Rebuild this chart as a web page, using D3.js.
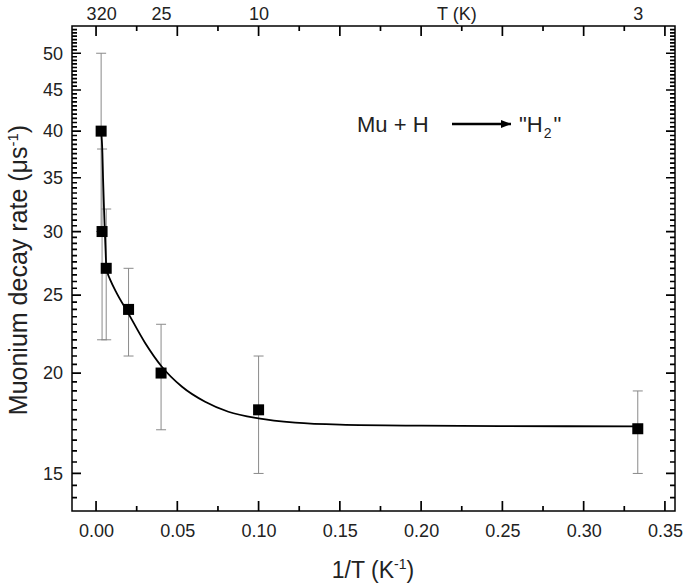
<!DOCTYPE html>
<html>
<head>
<meta charset="utf-8">
<script src="https://cdn.jsdelivr.net/npm/d3@7"></script>
<style>
  body { margin: 0; background: #fff; }
  svg { font-family: "Liberation Sans", Arial, sans-serif; }
</style>
</head>
<body>
<svg id="chart" width="685" height="583"></svg>
<script>
// measured points (1/T in K^-1, decay rate in us^-1)
const invT = [0.003125, 0.0037, 0.00625, 0.02, 0.04, 0.1, 0.3333];
const rate = [40, 30, 27, 24, 20, 18, 17.05];
const errLow = [30, 22, 22, 21, 17, 15, 15];
const errHigh = [50, 38, 32, 27, 23, 21, 19];

// fitted curve
const fitX = [0.003125, 0.0039, 0.0043, 0.0049, 0.0054, 0.0059, 0.0063, 0.0072, 0.0088, 0.0127, 0.0195, 0.0302, 0.0406, 0.0529, 0.0671, 0.0814, 0.0999, 0.1225, 0.15, 0.2, 0.25, 0.3333];
const fitY = [40, 37.6, 35, 32, 30, 28.3, 27.1, 26.6, 26.1, 25.15, 23.8, 21.8, 20.35, 19.23, 18.42, 17.9, 17.56, 17.35, 17.25, 17.2, 17.18, 17.17];

// ticks
const xTicks = [0, 0.05, 0.10, 0.15, 0.20, 0.25, 0.30, 0.35];
const xMinor = [0.025, 0.075, 0.125, 0.175, 0.225, 0.275, 0.325];
const yTicks = [15, 20, 25, 30, 35, 40, 45, 50];
const topTemps = [320, 25, 10, 3];

const svg = d3.select('#chart');
const pL = 72, pR = 675, pT = 26, pB = 511;

const x = d3.scaleLinear().domain([-0.0148, 0.3562]).range([pL, pR]);
const y = d3.scaleLog().domain([13.47, 54.06]).range([pB, pT]);

// minor ticks every 0.5 on the log axis
const yMinor = d3.range(14, 54.01, 0.5).filter(v => v % 5 !== 0 && y(v) < pB - 1 && y(v) > pT + 1);

// tick labels
function styleAxis(g) {
    g.select('.domain').remove();
    g.selectAll('line').remove();
    g.selectAll('text').attr('fill', '#222').attr('font-size', 18);
}
svg.append('g').attr('transform', `translate(${pL},0)`)
    .call(d3.axisLeft(y).tickValues(yTicks).tickSize(0).tickPadding(9).tickFormat(d3.format('d')))
    .call(styleAxis);
svg.append('g').attr('transform', `translate(0,${pB})`)
    .call(d3.axisBottom(x).tickValues(xTicks).tickSize(0).tickPadding(13).tickFormat(d3.format('.2f')))
    .call(styleAxis);
svg.append('g').attr('transform', `translate(0,${pT})`)
    .call(d3.axisTop(x).tickValues(topTemps.map(t => 1 / t)).tickSize(0).tickPadding(6)
        .tickFormat((d, i) => topTemps[i]))
    .call(styleAxis);

// frame
svg.append('rect')
    .attr('x', pL).attr('y', pT)
    .attr('width', pR - pL).attr('height', pB - pT)
    .attr('fill', 'none').attr('stroke', '#000').attr('stroke-width', 1.5);

// tick marks, pointing inwards on all four sides
const tickPath = d3.path();
yTicks.forEach(v => { tickPath.moveTo(pL, y(v)); tickPath.lineTo(pL + 9, y(v)); tickPath.moveTo(pR, y(v)); tickPath.lineTo(pR - 9, y(v)); });
yMinor.forEach(v => { tickPath.moveTo(pL, y(v)); tickPath.lineTo(pL + 5, y(v)); tickPath.moveTo(pR, y(v)); tickPath.lineTo(pR - 5, y(v)); });
xTicks.forEach(v => { tickPath.moveTo(x(v), pB); tickPath.lineTo(x(v), pB - 10); tickPath.moveTo(x(v), pT); tickPath.lineTo(x(v), pT + 10); });
xMinor.forEach(v => { tickPath.moveTo(x(v), pB); tickPath.lineTo(x(v), pB - 5); tickPath.moveTo(x(v), pT); tickPath.lineTo(x(v), pT + 5); });
svg.append('path')
    .attr('d', tickPath.toString())
    .attr('fill', 'none').attr('stroke', '#000').attr('stroke-width', 1.7);

// error bars
const pts = invT.map((v, i) => ({ x: v, y: rate[i], lo: errLow[i], hi: errHigh[i] }));
const eb = svg.append('g').attr('stroke', '#8a8a8a').attr('stroke-width', 1);
eb.selectAll('.stem').data(pts).enter().append('line')
    .attr('x1', d => x(d.x)).attr('x2', d => x(d.x))
    .attr('y1', d => y(d.lo)).attr('y2', d => y(d.hi));
eb.selectAll('.capHi').data(pts).enter().append('line')
    .attr('x1', d => x(d.x) - 5).attr('x2', d => x(d.x) + 5)
    .attr('y1', d => y(d.hi)).attr('y2', d => y(d.hi));
eb.selectAll('.capLo').data(pts).enter().append('line')
    .attr('x1', d => x(d.x) - 5).attr('x2', d => x(d.x) + 5)
    .attr('y1', d => y(d.lo)).attr('y2', d => y(d.lo));

// fit curve
const line = d3.line().x(d => x(d[0])).y(d => y(d[1])).curve(d3.curveMonotoneX);
svg.append('path')
    .datum(fitX.map((v, i) => [v, fitY[i]]))
    .attr('d', line)
    .attr('fill', 'none').attr('stroke', '#000').attr('stroke-width', 1.8);

// markers
const s = 11;
svg.selectAll('.pt').data(pts).enter().append('rect')
    .attr('x', d => x(d.x) - s / 2).attr('y', d => y(d.y) - s / 2)
    .attr('width', s).attr('height', s).attr('fill', '#000');

// axis titles
svg.append('text')
    .attr('x', 373).attr('y', 578)
    .attr('text-anchor', 'middle').attr('font-size', 23).attr('fill', '#222')
    .html('1/T (K<tspan dy="-9" font-size="14">-1</tspan><tspan dy="9">)</tspan>');
svg.append('text')
    .attr('transform', 'translate(27,270) rotate(-90)')
    .attr('text-anchor', 'middle').attr('font-size', 25).attr('fill', '#222')
    .html('Muonium decay rate (μs<tspan dy="-9" font-size="15">-1</tspan><tspan dy="9">)</tspan>');
svg.append('text')
    .attr('x', x(0.222)).attr('y', 20)
    .attr('text-anchor', 'middle').attr('font-size', 18).attr('fill', '#222')
    .text('T (K)');

// reaction annotation
svg.append('defs').append('marker')
    .attr('id', 'arrow').attr('viewBox', '0 0 10 10')
    .attr('refX', 10).attr('refY', 5)
    .attr('markerWidth', 5).attr('markerHeight', 4)
    .attr('markerUnits', 'strokeWidth').attr('orient', 'auto')
    .append('path').attr('d', 'M0,1 L10,5 L0,9 Z').attr('fill', '#000');
svg.append('text')
    .attr('x', 357).attr('y', 132).attr('font-size', 22).attr('fill', '#222')
    .text('Mu + H');
svg.append('line')
    .attr('x1', 452).attr('x2', 511).attr('y1', 124).attr('y2', 124)
    .attr('stroke', '#000').attr('stroke-width', 2.5)
    .attr('marker-end', 'url(#arrow)');
svg.append('text')
    .attr('x', 519).attr('y', 132).attr('font-size', 22).attr('fill', '#222')
    .html('"H<tspan dy="6" dx="1" font-size="14">2</tspan><tspan dy="-6" dx="2">"</tspan>');
</script>
</body>
</html>
